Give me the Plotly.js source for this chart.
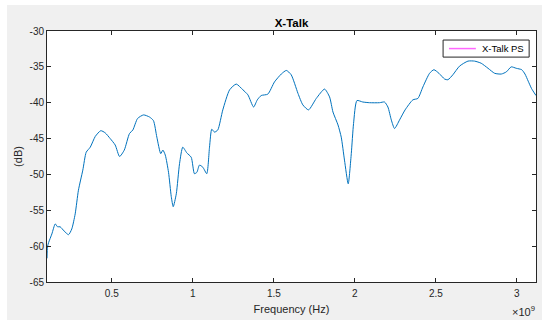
<!DOCTYPE html>
<html>
<head>
<meta charset="utf-8">
<script src="https://cdn.plot.ly/plotly-3.0.1.min.js"></script>
<style>
  html, body { margin: 0; padding: 0; background: #ffffff; width: 542px; height: 322px; overflow: hidden; }
  #chart { position: absolute; left: 7px; top: 5px; width: 535px; height: 315px; }
</style>
</head>
<body>
<div id="chart"></div>
<script>
// Frequency in GHz (axis shows x10^9 Hz)
const freqGHz = [0.100, 0.103, 0.110, 0.130, 0.151, 0.165, 0.181, 0.206, 0.233, 0.253, 0.274, 0.294, 0.321, 0.342, 0.367, 0.398, 0.432, 0.459, 0.490, 0.521, 0.548, 0.577, 0.609, 0.630, 0.659, 0.696, 0.733, 0.757, 0.778, 0.802, 0.815, 0.830, 0.850, 0.867, 0.879, 0.898, 0.918, 0.938, 0.963, 0.990, 1.010, 1.025, 1.041, 1.062, 1.086, 1.103, 1.117, 1.134, 1.154, 1.185, 1.227, 1.268, 1.309, 1.340, 1.375, 1.398, 1.422, 1.463, 1.504, 1.546, 1.577, 1.607, 1.649, 1.679, 1.714, 1.762, 1.813, 1.844, 1.865, 1.896, 1.916, 1.936, 1.959, 1.978, 1.992, 2.013, 2.049, 2.091, 2.152, 2.183, 2.204, 2.225, 2.245, 2.276, 2.310, 2.358, 2.389, 2.420, 2.461, 2.488, 2.519, 2.554, 2.574, 2.605, 2.646, 2.698, 2.739, 2.780, 2.822, 2.863, 2.904, 2.935, 2.965, 2.996, 3.030, 3.050, 3.070, 3.090, 3.118];
const xtalkDB = [-61.7, -60.1, -59.5, -58.3, -56.9, -57.3, -57.3, -57.9, -58.4, -57.6, -55.5, -52.2, -49.4, -46.9, -46.2, -44.7, -43.9, -44.2, -45.0, -45.9, -47.5, -46.6, -44.3, -43.8, -42.2, -41.7, -42.0, -42.5, -44.8, -47.1, -46.6, -47.3, -49.7, -53.1, -54.5, -52.7, -48.5, -46.2, -47.0, -47.6, -49.9, -49.7, -48.7, -49.0, -49.9, -46.2, -43.7, -44.1, -43.8, -41.0, -38.2, -37.4, -38.2, -38.9, -40.6, -39.6, -39.0, -38.8, -37.1, -36.0, -35.5, -36.1, -38.7, -40.3, -41.0, -39.4, -38.1, -39.2, -41.3, -43.1, -44.8, -48.0, -51.3, -47.1, -42.9, -39.7, -39.9, -40.0, -40.0, -39.9, -40.6, -42.4, -43.6, -42.4, -41.0, -39.6, -39.4, -37.8, -35.9, -35.4, -35.9, -36.7, -36.8, -36.1, -34.9, -34.2, -34.2, -34.5, -35.2, -35.9, -36.0, -35.7, -35.0, -35.2, -35.4, -36.0, -37.0, -38.0, -39.0];

const xTickVals = [0.5, 1, 1.5, 2, 2.5, 3];
const xTickText = ['0.5', '1', '1.5', '2', '2.5', '3'];
const yTickVals = [-65, -60, -55, -50, -45, -40, -35, -30];
const yTickText = ['-65', '-60', '-55', '-50', '-45', '-40', '-35', '-30'];
const legendName = 'X-Talk PS';

const axisColor = '#262626';
const fontFam = '"Liberation Sans", Arial, Helvetica, sans-serif';

const traces = [
  {
    x: freqGHz, y: xtalkDB, type: 'scatter', mode: 'lines',
    line: { color: '#0072BD', width: 1, shape: 'spline', smoothing: 0.6 },
    showlegend: false, hoverinfo: 'skip'
  }
];

// legend box drawn in paper coordinates (plot area fractions)
const legBox = { x0: 0.810, x1: 0.986, y0: 0.896, y1: 0.964 };
const legLine = { x0: 0.822, x1: 0.877, y: 0.930 };

const layout = {
  width: 535, height: 315,
  margin: { l: 40, r: 6, t: 26, b: 38, pad: 0 },
  paper_bgcolor: '#f0f0f0',
  plot_bgcolor: '#ffffff',
  font: { family: fontFam, size: 10, color: axisColor },
  title: {
    text: '<b>X-Talk</b>',
    font: { family: fontFam, size: 11.5, color: '#000000' },
    x: 0.5, xref: 'paper', xanchor: 'center',
    y: 1, yref: 'paper', yanchor: 'bottom', pad: { b: 4 }
  },
  xaxis: {
    range: [0.1, 3.118],
    tickvals: xTickVals, ticktext: xTickText,
    ticks: 'inside', ticklen: 4, tickwidth: 1, tickcolor: axisColor,
    showline: true, linecolor: axisColor, linewidth: 1, mirror: 'ticks',
    showgrid: false, zeroline: false,
    ticklabelstandoff: 2,
    tickfont: { family: fontFam, size: 10, color: axisColor },
    title: { text: 'Frequency (Hz)', font: { family: fontFam, size: 11, color: axisColor }, standoff: 7 }
  },
  yaxis: {
    range: [-65, -30],
    tickvals: yTickVals, ticktext: yTickText,
    ticks: 'inside', ticklen: 4, tickwidth: 1, tickcolor: axisColor,
    showline: true, linecolor: axisColor, linewidth: 1, mirror: 'ticks',
    showgrid: false, zeroline: false,
    tickfont: { family: fontFam, size: 10, color: axisColor },
    title: { text: '(dB)', font: { family: fontFam, size: 11, color: axisColor }, standoff: 4 }
  },
  showlegend: false,
  shapes: [
    { type: 'rect', xref: 'paper', yref: 'paper', x0: legBox.x0, x1: legBox.x1, y0: legBox.y0, y1: legBox.y1,
      line: { color: axisColor, width: 1 }, fillcolor: '#ffffff', layer: 'above' },
    { type: 'line', xref: 'paper', yref: 'paper', x0: legLine.x0, x1: legLine.x1, y0: legLine.y, y1: legLine.y,
      line: { color: '#ff66ff', width: 1.5 }, layer: 'above' }
  ],
  annotations: [
    {
      text: legendName, xref: 'paper', yref: 'paper', x: 0.886, y: legLine.y,
      xanchor: 'left', yanchor: 'middle', showarrow: false,
      font: { family: fontFam, size: 9.5, color: '#000000' }
    },
    {
      text: '×10<sup>9</sup>', xref: 'paper', yref: 'paper', x: 1.002, y: 0,
      xanchor: 'right', yanchor: 'top', yshift: -20, showarrow: false,
      font: { family: fontFam, size: 11, color: axisColor }
    }
  ]
};

Plotly.newPlot('chart', traces, layout, { displayModeBar: false, staticPlot: true });
</script>
</body>
</html>
